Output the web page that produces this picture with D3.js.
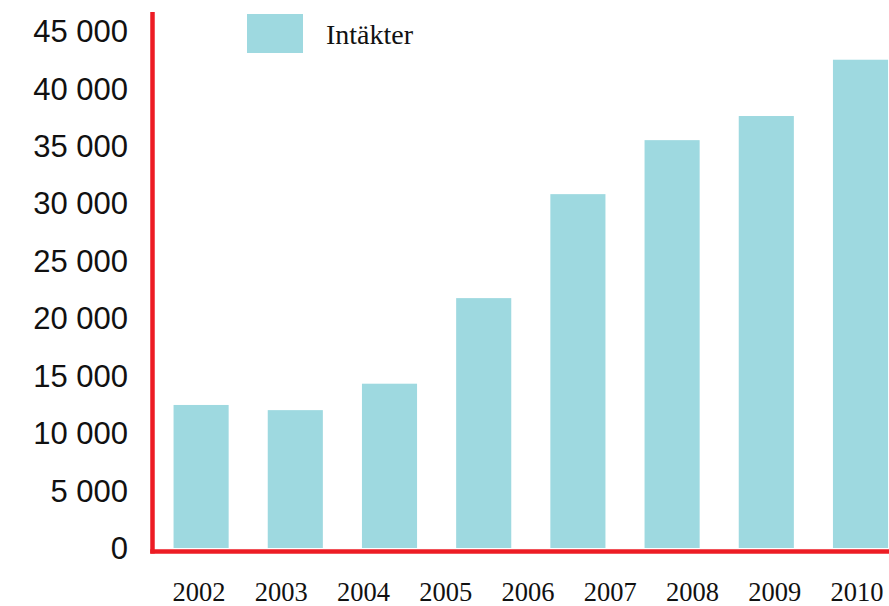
<!DOCTYPE html>
<html>
<head>
<meta charset="utf-8">
<script src="https://cdn.jsdelivr.net/npm/d3@7"></script>
<style>
    html, body { margin: 0; padding: 0; background: #fff; }
    svg { display: block; }
</style>
</head>
<body>
<svg id="chart"></svg>
<script>
const WIDTH = 889,
      HEIGHT = 606;

// data
const BAR_YEARS = ["2002", "2003", "2004", "2005", "2006", "2007", "2008", "2009"];
const BAR_VALUES = [12450, 12000, 14300, 21750, 30800, 35500, 37600, 42500];
const LABEL_YEARS = ["2002", "2003", "2004", "2005", "2006", "2007", "2008", "2009", "2010"];
const Y_TICKS = [0, 5000, 10000, 15000, 20000, 25000, 30000, 35000, 40000, 45000];
const SERIES_NAME = "Intäkter";

const BAR_COLOUR = "#9ed9e0";
const AXIS_COLOUR = "#ed1c24";

const svg = d3.select("#chart")
    .attr("width", WIDTH)
    .attr("height", HEIGHT);

const y = d3.scaleLinear()
    .domain([0, 45000])
    .range([548, 31]);

// 9 slots, the last one runs off the right edge
const step = 94.2;
const x = d3.scaleBand()
    .domain(LABEL_YEARS)
    .range([154, 154 + 9 * step])
    .paddingInner(0.415)
    .paddingOuter(0.2075);

const xLabel = d3.scalePoint()
    .domain(LABEL_YEARS)
    .range([199, 857]);

const fmt = d3.formatLocale({ decimal: ",", thousands: " ", grouping: [3], currency: ["", ""] }).format(",d");

//bars
svg.append("g")
    .selectAll("rect")
    .data(BAR_YEARS)
    .join("rect")
    .attr("x", d => x(d))
    .attr("width", x.bandwidth())
    .attr("y", (d, i) => y(BAR_VALUES[i]))
    .attr("height", (d, i) => y(0) - y(BAR_VALUES[i]))
    .attr("fill", BAR_COLOUR);

//y tick labels
svg.append("g")
    .selectAll("text")
    .data(Y_TICKS)
    .join("text")
    .attr("x", 128)
    .attr("y", d => y(d))
    .attr("dy", "0.36em")
    .attr("text-anchor", "end")
    .attr("font-family", "'Liberation Sans', Arial, sans-serif")
    .attr("font-size", 31)
    .attr("fill", "#111")
    .text(d => fmt(d));

//x labels
svg.append("g")
    .selectAll("text")
    .data(LABEL_YEARS)
    .join("text")
    .attr("x", d => xLabel(d))
    .attr("y", 601)
    .attr("text-anchor", "middle")
    .attr("font-family", "'Liberation Serif', 'Times New Roman', serif")
    .attr("font-size", 26.5)
    .attr("fill", "#111")
    .text(d => d);

//axis lines
svg.append("line")
    .attr("x1", 152.5).attr("x2", 152.5)
    .attr("y1", 12).attr("y2", 553.5)
    .attr("stroke", AXIS_COLOUR)
    .attr("stroke-width", 4.5);

svg.append("line")
    .attr("x1", 150.25).attr("x2", WIDTH)
    .attr("y1", 551.5).attr("y2", 551.5)
    .attr("stroke", AXIS_COLOUR)
    .attr("stroke-width", 4.5);

//legend
svg.append("rect")
    .attr("x", 247)
    .attr("y", 14)
    .attr("width", 56)
    .attr("height", 39)
    .attr("fill", BAR_COLOUR);

svg.append("text")
    .attr("x", 326)
    .attr("y", 44)
    .attr("font-family", "'Liberation Serif', 'Times New Roman', serif")
    .attr("font-size", 28)
    .attr("fill", "#111")
    .text(SERIES_NAME);
</script>
</body>
</html>
